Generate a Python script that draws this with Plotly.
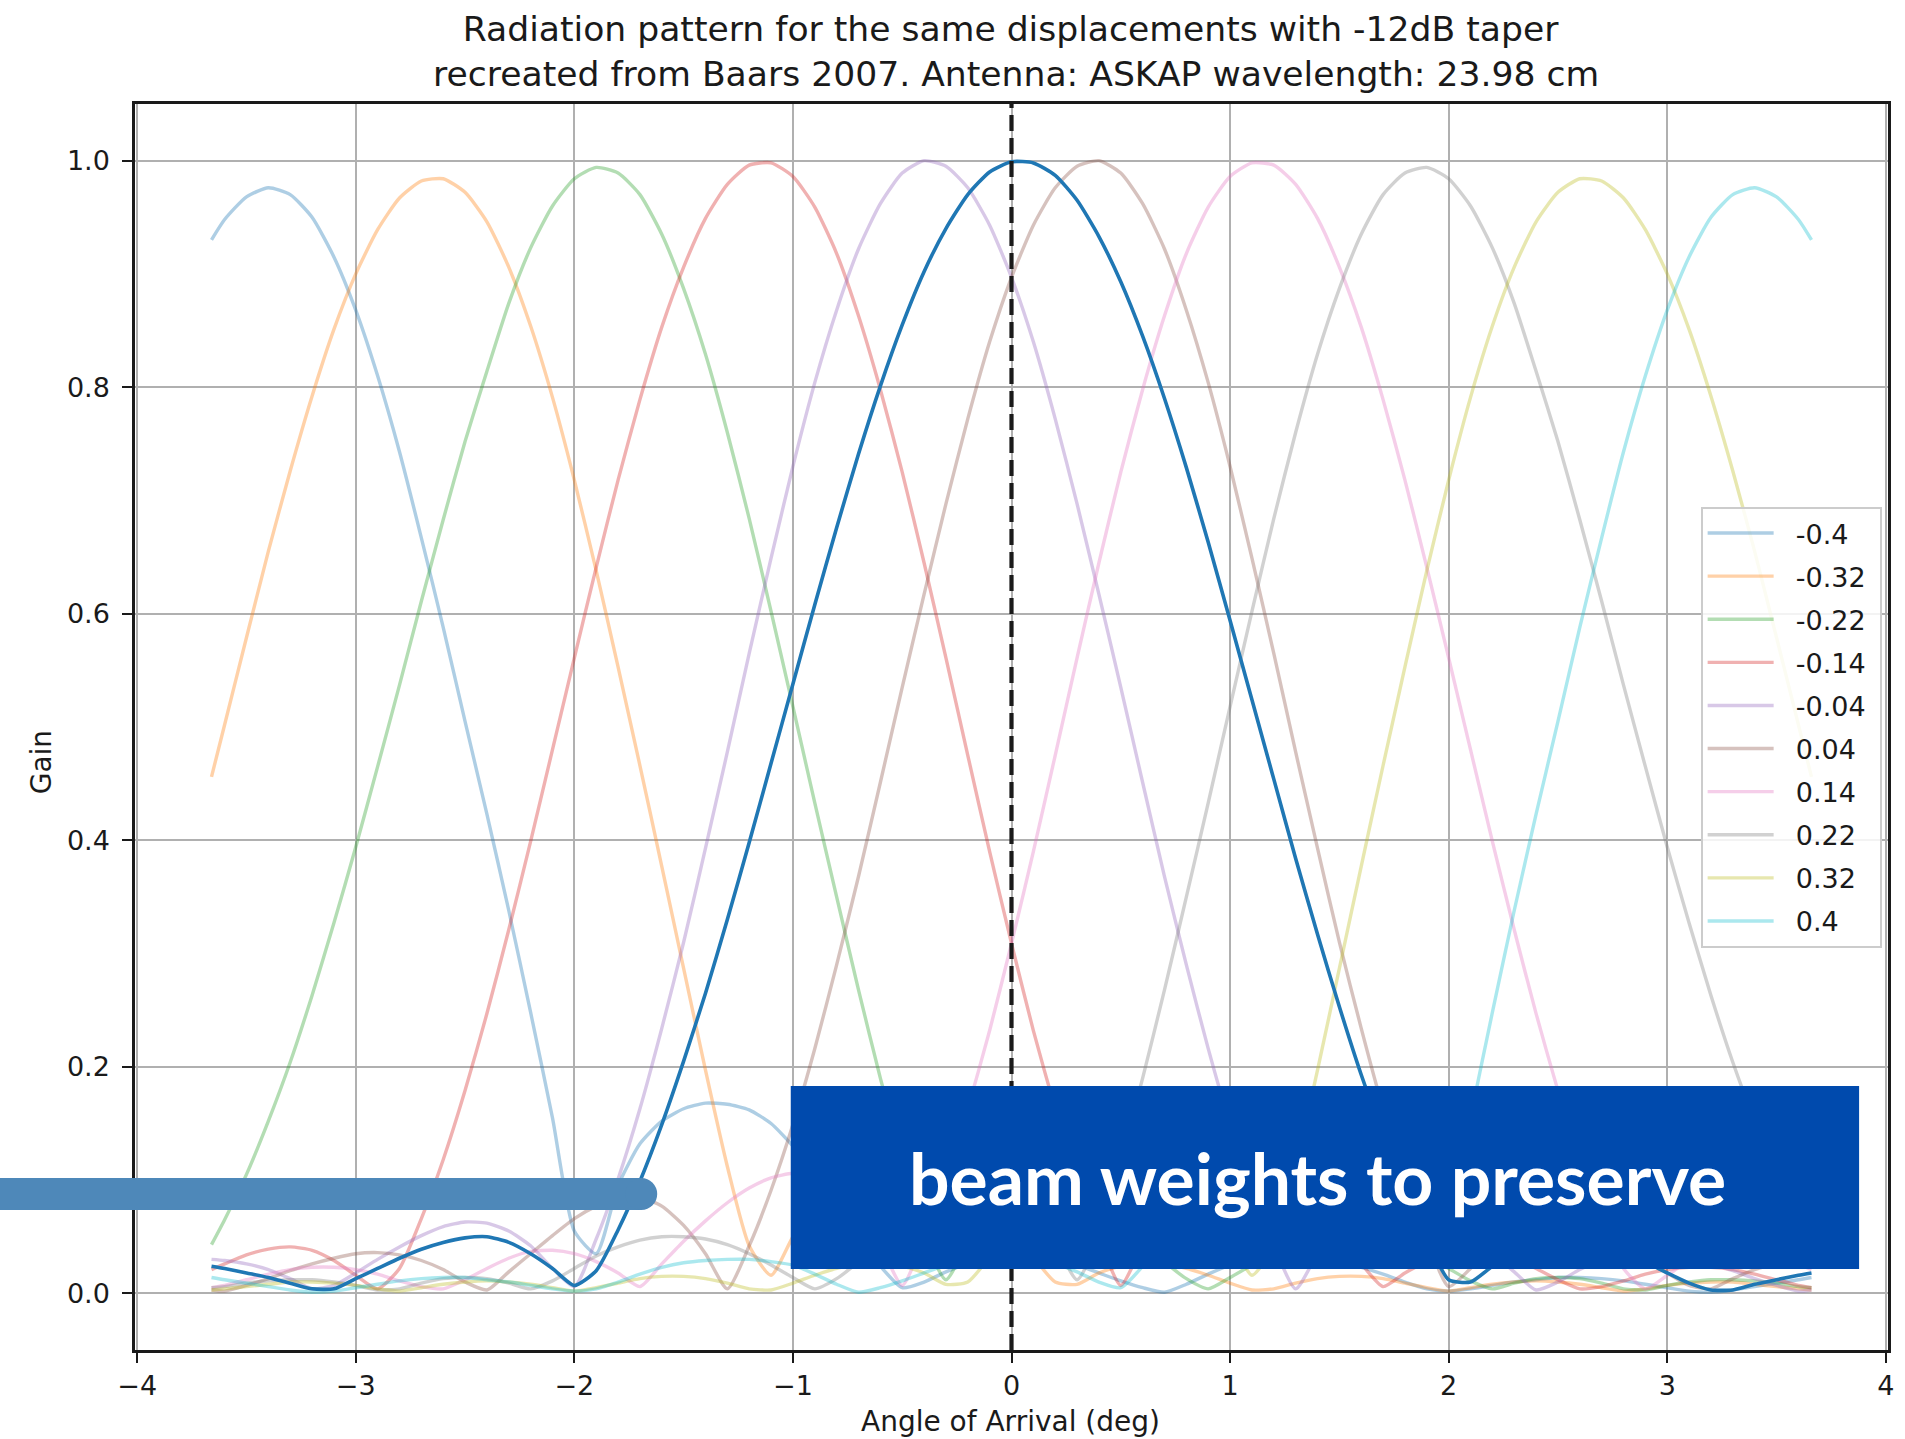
import plotly.graph_objects as go

# ---------------- data ----------------
ANGLE = [-3.66, -3.6, -3.5, -3.4, -3.3, -3.2, -3.1, -3.0, -2.9, -2.8,
         -2.7, -2.6, -2.5, -2.4, -2.3, -2.2, -2.1, -2.0, -1.9, -1.8,
         -1.7, -1.6, -1.5, -1.4, -1.3, -1.2, -1.1, -1.0, -0.9, -0.8,
         -0.7, -0.6, -0.5, -0.4, -0.3, -0.2, -0.1, 0.0, 0.1, 0.2,
         0.3, 0.4, 0.5, 0.6, 0.7, 0.8, 0.9, 1.0, 1.1, 1.2,
         1.3, 1.4, 1.5, 1.6, 1.7, 1.8, 1.9, 2.0, 2.1, 2.2,
         2.3, 2.4, 2.5, 2.6, 2.7, 2.8, 2.9, 3.0, 3.1, 3.2,
         3.3, 3.4, 3.5, 3.6, 3.66]

DISPLACEMENTS = ["-0.4", "-0.32", "-0.22", "-0.14", "-0.04",
                 "0.04", "0.14", "0.22", "0.32", "0.4"]

GAIN_M040 = [0.930, 0.948, 0.968, 0.976, 0.970, 0.950, 0.915, 0.868, 0.810, 0.743,
             0.667, 0.588, 0.505, 0.423, 0.338, 0.248, 0.155, 0.055, 0.035, 0.095,
             0.132, 0.152, 0.163, 0.168, 0.167, 0.162, 0.150, 0.130, 0.104, 0.076,
             0.048, 0.024, 0.005, 0.010, 0.019, 0.026, 0.031, 0.033, 0.033, 0.030,
             0.025, 0.018, 0.011, 0.005, 0.001, 0.008, 0.017, 0.025, 0.028, 0.030,
             0.030, 0.029, 0.027, 0.023, 0.017, 0.010, 0.004, 0.002, 0.004, 0.007,
             0.010, 0.012, 0.014, 0.014, 0.013, 0.011, 0.008, 0.005, 0.002, 0.001,
             0.003, 0.006, 0.009, 0.012, 0.014]

GAIN_M032 = [0.456, 0.502, 0.579, 0.655, 0.726, 0.792, 0.851, 0.900, 0.939, 0.967,
             0.982, 0.984, 0.972, 0.946, 0.906, 0.854, 0.791, 0.718, 0.638, 0.553,
             0.466, 0.377, 0.287, 0.197, 0.112, 0.042, 0.016, 0.050, 0.078, 0.098,
             0.111, 0.119, 0.121, 0.119, 0.111, 0.098, 0.078, 0.055, 0.032, 0.010,
             0.008, 0.018, 0.024, 0.027, 0.026, 0.022, 0.016, 0.009, 0.003, 0.004,
             0.009, 0.013, 0.015, 0.015, 0.013, 0.009, 0.005, 0.002, 0.005, 0.008,
             0.010, 0.011, 0.010, 0.008, 0.005, 0.002, 0.004, 0.007, 0.009, 0.010,
             0.010, 0.008, 0.006, 0.004, 0.003]

GAIN_M022 = [0.043, 0.065, 0.105, 0.152, 0.204, 0.263, 0.327, 0.394, 0.465, 0.537,
             0.611, 0.683, 0.752, 0.814, 0.874, 0.923, 0.960, 0.984, 0.994, 0.989,
             0.970, 0.935, 0.887, 0.829, 0.760, 0.684, 0.602, 0.518, 0.433, 0.350,
             0.268, 0.190, 0.118, 0.050, 0.012, 0.045, 0.072, 0.092, 0.103, 0.105,
             0.098, 0.085, 0.066, 0.046, 0.028, 0.013, 0.004, 0.014, 0.025, 0.035,
             0.043, 0.048, 0.050, 0.050, 0.047, 0.041, 0.033, 0.022, 0.011, 0.004,
             0.009, 0.013, 0.014, 0.013, 0.009, 0.004, 0.003, 0.007, 0.010, 0.012,
             0.012, 0.011, 0.009, 0.006, 0.005]

GAIN_M014 = [0.021, 0.026, 0.034, 0.039, 0.041, 0.038, 0.029, 0.016, 0.004, 0.022,
             0.066, 0.118, 0.179, 0.247, 0.321, 0.399, 0.480, 0.561, 0.641, 0.718,
             0.789, 0.853, 0.906, 0.949, 0.979, 0.996, 0.998, 0.986, 0.959, 0.918,
             0.863, 0.798, 0.725, 0.645, 0.561, 0.475, 0.390, 0.309, 0.232, 0.163,
             0.101, 0.049, 0.007, 0.043, 0.074, 0.094, 0.104, 0.106, 0.102, 0.093,
             0.080, 0.064, 0.046, 0.026, 0.006, 0.018, 0.028, 0.035, 0.038, 0.037,
             0.031, 0.022, 0.012, 0.004, 0.006, 0.011, 0.017, 0.021, 0.023, 0.023,
             0.021, 0.017, 0.012, 0.007, 0.005]

GAIN_M004 = [0.030, 0.029, 0.026, 0.021, 0.013, 0.004, 0.007, 0.018, 0.030, 0.041,
             0.051, 0.059, 0.063, 0.062, 0.055, 0.042, 0.022, 0.006, 0.048, 0.101,
             0.163, 0.234, 0.310, 0.393, 0.478, 0.565, 0.649, 0.730, 0.804, 0.868,
             0.922, 0.962, 0.989, 1.000, 0.995, 0.976, 0.943, 0.897, 0.840, 0.772,
             0.697, 0.617, 0.535, 0.451, 0.368, 0.290, 0.216, 0.149, 0.091, 0.042,
             0.004, 0.035, 0.060, 0.077, 0.085, 0.084, 0.077, 0.066, 0.051, 0.035,
             0.019, 0.003, 0.010, 0.021, 0.029, 0.034, 0.036, 0.035, 0.031, 0.026,
             0.020, 0.013, 0.007, 0.002, 0.003]

GAIN_P004 = [0.003, 0.002, 0.007, 0.013, 0.020, 0.026, 0.031, 0.035, 0.036, 0.034,
             0.029, 0.021, 0.010, 0.003, 0.019, 0.035, 0.051, 0.066, 0.077, 0.084,
             0.085, 0.077, 0.060, 0.035, 0.004, 0.042, 0.091, 0.149, 0.216, 0.290,
             0.368, 0.451, 0.535, 0.617, 0.697, 0.772, 0.840, 0.897, 0.943, 0.976,
             0.995, 1.000, 0.989, 0.962, 0.922, 0.868, 0.804, 0.730, 0.649, 0.565,
             0.478, 0.393, 0.310, 0.234, 0.163, 0.101, 0.048, 0.006, 0.022, 0.042,
             0.055, 0.062, 0.063, 0.059, 0.051, 0.041, 0.030, 0.018, 0.007, 0.004,
             0.013, 0.021, 0.026, 0.029, 0.030]

GAIN_P014 = [0.005, 0.007, 0.012, 0.017, 0.021, 0.023, 0.023, 0.021, 0.017, 0.011,
             0.006, 0.004, 0.012, 0.022, 0.031, 0.037, 0.038, 0.035, 0.028, 0.018,
             0.006, 0.026, 0.046, 0.064, 0.080, 0.093, 0.102, 0.106, 0.104, 0.094,
             0.074, 0.043, 0.007, 0.049, 0.101, 0.163, 0.232, 0.309, 0.390, 0.475,
             0.561, 0.645, 0.725, 0.798, 0.863, 0.918, 0.959, 0.986, 0.998, 0.996,
             0.979, 0.949, 0.906, 0.853, 0.789, 0.718, 0.641, 0.561, 0.480, 0.399,
             0.321, 0.247, 0.179, 0.118, 0.066, 0.022, 0.004, 0.016, 0.029, 0.038,
             0.041, 0.039, 0.034, 0.026, 0.021]

GAIN_P022 = [0.005, 0.006, 0.009, 0.011, 0.012, 0.012, 0.010, 0.007, 0.003, 0.004,
             0.009, 0.013, 0.014, 0.013, 0.009, 0.004, 0.011, 0.022, 0.033, 0.041,
             0.047, 0.050, 0.050, 0.048, 0.043, 0.035, 0.025, 0.014, 0.004, 0.013,
             0.028, 0.046, 0.066, 0.085, 0.098, 0.105, 0.103, 0.092, 0.072, 0.045,
             0.012, 0.050, 0.118, 0.190, 0.268, 0.350, 0.433, 0.518, 0.602, 0.684,
             0.760, 0.829, 0.887, 0.935, 0.970, 0.989, 0.994, 0.984, 0.960, 0.923,
             0.874, 0.814, 0.752, 0.683, 0.611, 0.537, 0.465, 0.394, 0.327, 0.263,
             0.204, 0.152, 0.105, 0.065, 0.043]

GAIN_P032 = [0.003, 0.004, 0.006, 0.008, 0.010, 0.010, 0.009, 0.007, 0.004, 0.002,
             0.005, 0.008, 0.010, 0.011, 0.010, 0.008, 0.005, 0.002, 0.005, 0.009,
             0.013, 0.015, 0.015, 0.013, 0.009, 0.004, 0.003, 0.009, 0.016, 0.022,
             0.026, 0.027, 0.024, 0.018, 0.008, 0.010, 0.032, 0.055, 0.078, 0.098,
             0.111, 0.119, 0.121, 0.119, 0.111, 0.098, 0.078, 0.050, 0.016, 0.042,
             0.112, 0.197, 0.287, 0.377, 0.466, 0.553, 0.638, 0.718, 0.791, 0.854,
             0.906, 0.946, 0.972, 0.984, 0.982, 0.967, 0.939, 0.900, 0.851, 0.792,
             0.726, 0.655, 0.579, 0.502, 0.456]

GAIN_P040 = [0.014, 0.012, 0.009, 0.006, 0.003, 0.001, 0.002, 0.005, 0.008, 0.011,
             0.013, 0.014, 0.014, 0.012, 0.010, 0.007, 0.004, 0.002, 0.004, 0.010,
             0.017, 0.023, 0.027, 0.029, 0.030, 0.030, 0.028, 0.025, 0.017, 0.008,
             0.001, 0.005, 0.011, 0.018, 0.025, 0.030, 0.033, 0.033, 0.031, 0.026,
             0.019, 0.010, 0.005, 0.024, 0.048, 0.076, 0.104, 0.130, 0.150, 0.162,
             0.167, 0.168, 0.163, 0.152, 0.132, 0.095, 0.035, 0.055, 0.155, 0.248,
             0.338, 0.423, 0.505, 0.588, 0.667, 0.743, 0.810, 0.868, 0.915, 0.950,
             0.970, 0.976, 0.968, 0.948, 0.930]

# highlighted (unlabelled) central beam
GAIN_CENTRAL = [0.024, 0.022, 0.018, 0.014, 0.009, 0.004, 0.004, 0.013, 0.022, 0.031,
                0.039, 0.045, 0.049, 0.050, 0.045, 0.035, 0.022, 0.007, 0.020, 0.056,
                0.099, 0.149, 0.205, 0.265, 0.330, 0.398, 0.468, 0.538, 0.608, 0.676,
                0.741, 0.801, 0.855, 0.902, 0.940, 0.970, 0.990, 0.999, 0.998, 0.987,
                0.965, 0.933, 0.893, 0.845, 0.790, 0.729, 0.663, 0.594, 0.524, 0.454,
                0.384, 0.317, 0.253, 0.193, 0.139, 0.090, 0.048, 0.012, 0.010, 0.024,
                0.036, 0.045, 0.049, 0.049, 0.045, 0.037, 0.028, 0.018, 0.009, 0.003,
                0.003, 0.008, 0.012, 0.016, 0.018]

X_TICKS = [-4, -3, -2, -1, 0, 1, 2, 3, 4]
Y_TICKS = [0.0, 0.2, 0.4, 0.6, 0.8, 1.0]

SERIES = [GAIN_M040, GAIN_M032, GAIN_M022, GAIN_M014, GAIN_M004,
          GAIN_P004, GAIN_P014, GAIN_P022, GAIN_P032, GAIN_P040]

TAB10 = [(31, 119, 180), (255, 127, 14), (44, 160, 44), (214, 39, 40), (148, 103, 189),
         (140, 86, 75), (227, 119, 194), (127, 127, 127), (188, 189, 34), (23, 190, 207)]

FONT = "DejaVu Sans"
INK = "#1a1a1a"
NBSP = "\u00a0"

# ---------------- figure ----------------
fig = go.Figure()

for label, gains, (r, g, b) in zip(DISPLACEMENTS, SERIES, TAB10):
    fig.add_trace(go.Scatter(
        x=ANGLE, y=gains, mode="lines", name=NBSP * 2 + label + NBSP, legendgroup=label,
        line=dict(color=f"rgba({r},{g},{b},0.36)", width=3.4, shape="spline", smoothing=0.6),
    ))

fig.add_trace(go.Scatter(
    x=ANGLE, y=GAIN_CENTRAL, mode="lines", showlegend=False,
    line=dict(color="#1f77b4", width=3.6, shape="spline", smoothing=0.6),
))

# plot area geometry (pixels) used for overlay placement
L, R, T, B = 135, 11, 104, 89
W, H = 1905, 1439
PW, PH = W - L - R, H - T - B


def px(x):
    return (x - L) / PW


def py(y):
    return (H - B - y) / PH


shapes = [
    # boresight marker
    dict(type="line", xref="x", yref="paper", x0=0, x1=0, y0=0, y1=1,
         line=dict(color=INK, width=4.2, dash="16px,7px"), layer="above"),
    # callout box
    dict(type="rect", xref="paper", yref="paper",
         x0=px(793), x1=px(1865), y0=py(1269), y1=py(1086),
         fillcolor="#004aad", line=dict(width=0), layer="above"),
    # pointer bar
    dict(type="rect", xref="paper", yref="paper",
         x0=px(-20), x1=px(643), y0=py(1210), y1=py(1178),
         fillcolor="#4e88b9", line=dict(width=0), layer="above"),
    dict(type="circle", xref="paper", yref="paper",
         x0=px(627), x1=px(659), y0=py(1210), y1=py(1178),
         fillcolor="#4e88b9", line=dict(width=0), layer="above"),
]

annotations = [
    dict(text="Radiation pattern for the same displacements with -12dB taper<br>"
              " recreated from Baars 2007. Antenna: ASKAP wavelength: 23.98 cm",
         xref="paper", yref="paper", x=px(1013), y=py(51), xanchor="center", yanchor="middle",
         showarrow=False, font=dict(family=FONT, size=34.6, color=INK)),
    dict(text="Angle of Arrival (deg)", xref="paper", yref="paper",
         x=px(1013), y=py(1421), xanchor="center", yanchor="middle",
         showarrow=False, font=dict(family=FONT, size=28, color=INK)),
    dict(text="Gain", xref="paper", yref="paper", x=px(41), y=py(762),
         xanchor="center", yanchor="middle", textangle=-90,
         showarrow=False, font=dict(family=FONT, size=28, color=INK)),
    dict(text="beam weights to preserve", xref="paper", yref="paper",
         x=px(1322), y=py(1177), xanchor="center", yanchor="middle",
         showarrow=False, font=dict(family="Lato", size=71.5, color="white", weight="bold")),
]

axis_common = dict(
    showline=True, linecolor=INK, linewidth=2.5, mirror=True,
    ticks="outside", ticklen=10, tickwidth=2.3, tickcolor=INK,
    showgrid=True, gridcolor="#b0b0b0", gridwidth=2, zeroline=False,
    tickfont=dict(family=FONT, size=27, color=INK),
)

fig.update_layout(
    width=W, height=H, autosize=False,
    margin=dict(l=L, r=R, t=T, b=B, pad=0),
    paper_bgcolor="white", plot_bgcolor="white",
    xaxis=dict(range=[-4.01, 4.01], tickmode="array", tickvals=X_TICKS, **axis_common),
    yaxis=dict(range=[-0.05, 1.05], tickmode="array", tickvals=Y_TICKS,
               tickformat=".1f", ticklabelstandoff=7, **axis_common),
    showlegend=True,
    legend=dict(
        x=px(1706), y=py(507), xanchor="left", yanchor="top",
        bgcolor="rgba(255,255,255,0.85)", bordercolor="#cccccc", borderwidth=2,
        font=dict(family=FONT, size=27, color=INK), itemwidth=66,
        tracegroupgap=5,
    ),
    shapes=shapes,
    annotations=annotations,
)

fig.write_html("out.html")
